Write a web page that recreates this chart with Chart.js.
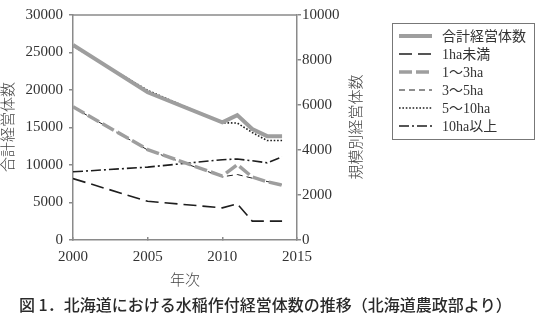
<!DOCTYPE html>
<html>
<head>
<meta charset="utf-8">
<script src="https://cdn.jsdelivr.net/npm/chart.js@4/dist/chart.umd.min.js"></script>
<style>
  html, body { margin: 0; padding: 0; background: #fff; }
  #wrap { width: 545px; height: 325px; position: relative; }
</style>
</head>
<body>
<div id="wrap"><canvas id="myChart"></canvas></div>
<script>
// ===============================
// Data
// ===============================
const years = [2000, 2005, 2010, 2011, 2012, 2013, 2014];
const totalData = [26000, 19700, 15700, 16650, 14800, 13850, 13850];
const under1Data = [2730, 1720, 1430, 1610, 840, 840, 840];
const ha1to3Data = [5920, 4020, 2840, 3350, 2800, 2590, 2440];
const ha3to5Data = [5900, 4000, 2810, 2910, 2750, 2600, 2450];
const ha5to10Data = [8620, 6650, 5210, 5200, 4780, 4420, 4420];
const ha10plusData = [3030, 3240, 3570, 3600, 3520, 3430, 3700];

const seriesLabels = ["合計経営体数", "1ha未満", "1～3ha", "3～5ha", "5～10ha", "10ha以上"];
const xTicks = [2000, 2005, 2010, 2015];
const leftTicks = [0, 5000, 10000, 15000, 20000, 25000, 30000];
const rightTicks = [0, 2000, 4000, 6000, 8000, 10000];

const leftTitle = "合計経営体数";
const rightTitle = "規模別経営体数";
const xTitle = "年次";
const caption = "図 1．北海道における水稲作付経営体数の推移（北海道農政部より）";

const toPoints = (vals) => vals.map((v, i) => ({ x: years[i], y: v }));

const GRAY = "#9e9e9e";
const INK = "#1e1e1e";
const AXIS = "#8a8a8a";
const TICK_FONT = { family: "'Liberation Serif', 'DejaVu Serif', serif", size: 15 };
const JP_FONT = "'Noto Sans CJK JP', sans-serif";

// ===============================
// Decorations: titles, frame, legend, caption
// ===============================
const decorPlugin = {
  id: "decorPlugin",
  afterDraw(chart) {
    const { ctx, chartArea } = chart;
    ctx.save();

    // top frame line
    ctx.strokeStyle = AXIS;
    ctx.lineWidth = 1.5;
    ctx.beginPath();
    ctx.moveTo(chartArea.left, chartArea.top);
    ctx.lineTo(chartArea.right, chartArea.top);
    ctx.stroke();

    // axis titles
    ctx.fillStyle = "#444";
    ctx.font = "300 15px " + JP_FONT;
    ctx.textAlign = "center";
    ctx.textBaseline = "middle";
    const midY = 127;
    [[7, leftTitle], [355, rightTitle]].forEach(([x, t]) => {
      ctx.save();
      ctx.translate(x, midY);
      ctx.rotate(-Math.PI / 2);
      ctx.fillText(t, 0, 0);
      ctx.restore();
    });
    ctx.fillText(xTitle, (chartArea.left + chartArea.right) / 2, 279);

    // legend
    const box = { x: 392, y: 23, w: 142, h: 116 };
    ctx.strokeStyle = "#777";
    ctx.lineWidth = 1;
    ctx.strokeRect(box.x + 0.5, box.y + 0.5, box.w, box.h);
    ctx.font = "14px 'Liberation Serif', " + JP_FONT;
    ctx.textAlign = "left";
    chart.data.datasets.forEach((ds, i) => {
      const y = 36 + i * 18;
      ctx.save();
      ctx.strokeStyle = ds.borderColor;
      ctx.lineWidth = ds.borderWidth;
      ctx.setLineDash(ds.borderDash || []);
      ctx.beginPath();
      ctx.moveTo(399, y);
      ctx.lineTo(432, y);
      ctx.stroke();
      ctx.restore();
      ctx.fillStyle = "#333";
      ctx.fillText(ds.label, 442, y + 1);
    });

    // caption
    ctx.fillStyle = "#2a2a2a";
    ctx.font = "500 16px " + JP_FONT;
    ctx.textAlign = "left";
    ctx.fillText(caption, 19, 305);

    ctx.restore();
  },
};

const canvas = document.getElementById("myChart");

new Chart(canvas, {
  type: "line",
  data: {
    datasets: [
      {
        label: seriesLabels[0],
        data: toPoints(totalData),
        yAxisID: "y",
        borderColor: GRAY,
        borderWidth: 4,
      },
      {
        label: seriesLabels[1],
        data: toPoints(under1Data),
        yAxisID: "y2",
        borderColor: INK,
        borderWidth: 1.6,
        borderDash: [13, 6],
      },
      {
        label: seriesLabels[2],
        data: toPoints(ha1to3Data),
        yAxisID: "y2",
        borderColor: GRAY,
        borderWidth: 3.5,
        borderDash: [13, 4],
      },
      {
        label: seriesLabels[3],
        data: toPoints(ha3to5Data),
        yAxisID: "y2",
        borderColor: INK,
        borderWidth: 1,
        borderDash: [6, 4],
      },
      {
        label: seriesLabels[4],
        data: toPoints(ha5to10Data),
        yAxisID: "y2",
        borderColor: INK,
        borderWidth: 1.6,
        borderDash: [1.6, 1.8],
      },
      {
        label: seriesLabels[5],
        data: toPoints(ha10plusData),
        yAxisID: "y2",
        borderColor: INK,
        borderWidth: 1.6,
        borderDash: [10, 3, 2, 3],
      },
    ],
  },
  options: {
    responsive: true,
    maintainAspectRatio: false,
    animation: false,
    layout: { padding: { top: 15, left: 0, right: 0, bottom: 0 } },
    elements: { point: { radius: 0 }, line: { tension: 0 } },
    plugins: {
      legend: { display: false },
      tooltip: { enabled: false },
    },
    scales: {
      x: {
        type: "linear",
        min: 2000,
        max: 2015,
        afterBuildTicks: (s) => { s.ticks = xTicks.map((v) => ({ value: v })); },
        afterFit: (s) => { s.height = 85; },
        border: { display: true, color: AXIS, width: 1.5 },
        grid: { display: true, drawOnChartArea: false, drawTicks: true, tickLength: -3, color: AXIS, lineWidth: 1.5 },
        ticks: { font: TICK_FONT, color: "#333", padding: 11, maxRotation: 0, callback: (v) => String(v) },
      },
      y: {
        position: "left",
        min: 0,
        max: 30000,
        afterBuildTicks: (s) => { s.ticks = leftTicks.map((v) => ({ value: v })); },
        afterFit: (s) => { s.width = 73; },
        border: { display: true, color: AXIS, width: 1.5 },
        grid: { display: true, drawOnChartArea: false, drawTicks: true, tickLength: 4, color: AXIS, lineWidth: 1.5 },
        ticks: { font: TICK_FONT, color: "#333", padding: 6, callback: (v) => String(v) },
      },
      y2: {
        position: "right",
        min: 0,
        max: 10000,
        afterBuildTicks: (s) => { s.ticks = rightTicks.map((v) => ({ value: v })); },
        afterFit: (s) => { s.width = 248; },
        border: { display: true, color: AXIS, width: 1.5 },
        grid: { display: true, drawOnChartArea: false, drawTicks: true, tickLength: 4, color: AXIS, lineWidth: 1.5 },
        ticks: { font: TICK_FONT, color: "#333", padding: 1, callback: (v) => String(v) },
      },
    },
  },
  plugins: [decorPlugin],
});
</script>
</body>
</html>
